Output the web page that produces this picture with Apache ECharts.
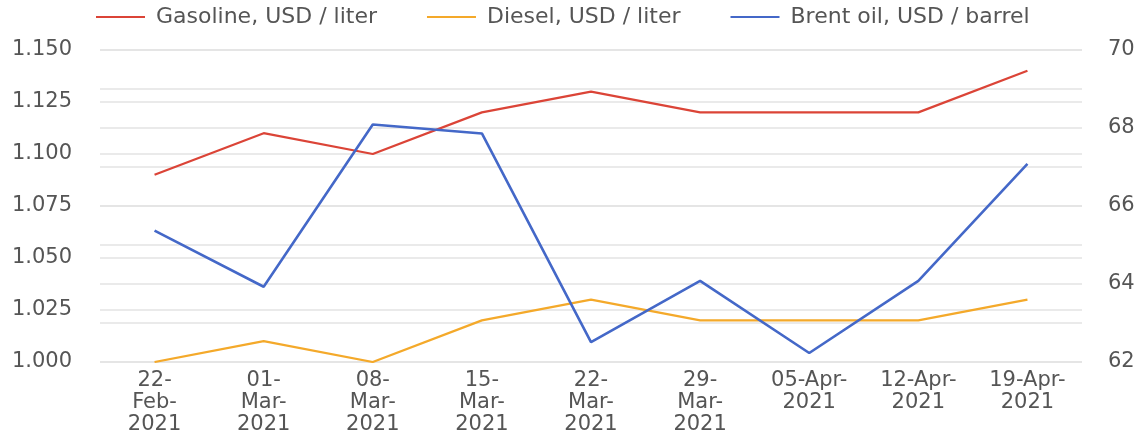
<!DOCTYPE html>
<html>
<head>
<meta charset="utf-8">
<script src="https://cdn.jsdelivr.net/npm/echarts@6/dist/echarts.min.js"></script>
<style>
  html, body { margin: 0; padding: 0; background: #fff; }
  #chart { width: 1148px; height: 434px; }
</style>
</head>
<body>
<div id="chart"></div>
<script>
// weekly prices
const categories = [
  "22-\nFeb-\n2021", "01-\nMar-\n2021", "08-\nMar-\n2021", "15-\nMar-\n2021",
  "22-\nMar-\n2021", "29-\nMar-\n2021", "05-Apr-\n2021", "12-Apr-\n2021", "19-Apr-\n2021"
];
const gasoline = [1.09, 1.11, 1.10, 1.12, 1.13, 1.12, 1.12, 1.12, 1.14];
const diesel = [1.00, 1.01, 1.00, 1.02, 1.03, 1.02, 1.02, 1.02, 1.03];
const brent = [65.37, 63.93, 68.09, 67.86, 62.51, 64.08, 62.23, 64.08, 67.08];

const textColor = "#555";
const gridColor = "#e3e3e3";
const font = "DejaVu Sans, Liberation Sans, sans-serif";

const chart = echarts.init(document.getElementById("chart"));

chart.setOption({
  animation: false,
  textStyle: { fontFamily: font },
  legend: {
    top: 1,
    left: 91,
    itemWidth: 49,
    itemHeight: 2,
    itemGap: 50,
    icon: "rect",
    textStyle: {
      color: textColor,
      fontSize: 22,
      fontFamily: font,
      padding: [0, 0, 0, 6],
    },
  },
  grid: {
    left: 100,
    right: 66,
    top: 50,
    bottom: 72,
    outerBoundsMode: "none",
  },
  xAxis: {
    type: "category",
    data: categories,
    axisLine: { show: false },
    axisTick: { show: false },
    axisLabel: {
      color: textColor,
      fontSize: 21,
      fontFamily: font,
      lineHeight: 22,
      margin: 8,
      interval: 0,
    },
  },
  yAxis: [
    {
      type: "value",
      min: 1.0,
      max: 1.15,
      interval: 0.025,
      axisLine: { show: false },
      axisTick: { show: false },
      axisLabel: {
        color: textColor,
        fontSize: 21,
        fontFamily: font,
        margin: 28,
        formatter: (v) => v.toFixed(3),
      },
      splitLine: { lineStyle: { color: gridColor, width: 1.5 } },
    },
    {
      type: "value",
      min: 62,
      max: 70,
      interval: 2,
      axisLine: { show: false },
      axisTick: { show: false },
      axisLabel: { color: textColor, fontSize: 21, fontFamily: font, margin: 26 },
      splitLine: { lineStyle: { color: gridColor, width: 1.5 } },
      minorTick: { show: false, splitNumber: 2 },
      minorSplitLine: { show: true, lineStyle: { color: gridColor, width: 1.5 } },
    },
  ],
  series: [
    {
      name: "Gasoline, USD / liter",
      type: "line",
      yAxisIndex: 0,
      data: gasoline,
      symbol: "none",
      color: "#DB4437",
      lineStyle: { width: 2.2 },
    },
    {
      name: "Diesel, USD / liter",
      type: "line",
      yAxisIndex: 0,
      data: diesel,
      symbol: "none",
      color: "#F4A92A",
      lineStyle: { width: 2.2 },
    },
    {
      name: "Brent oil, USD / barrel",
      type: "line",
      yAxisIndex: 1,
      data: brent,
      symbol: "none",
      color: "#4468C8",
      lineStyle: { width: 2.6 },
    },
  ],
});

window.addEventListener("resize", () => {
  chart.resize();
});
</script>
</body>
</html>
